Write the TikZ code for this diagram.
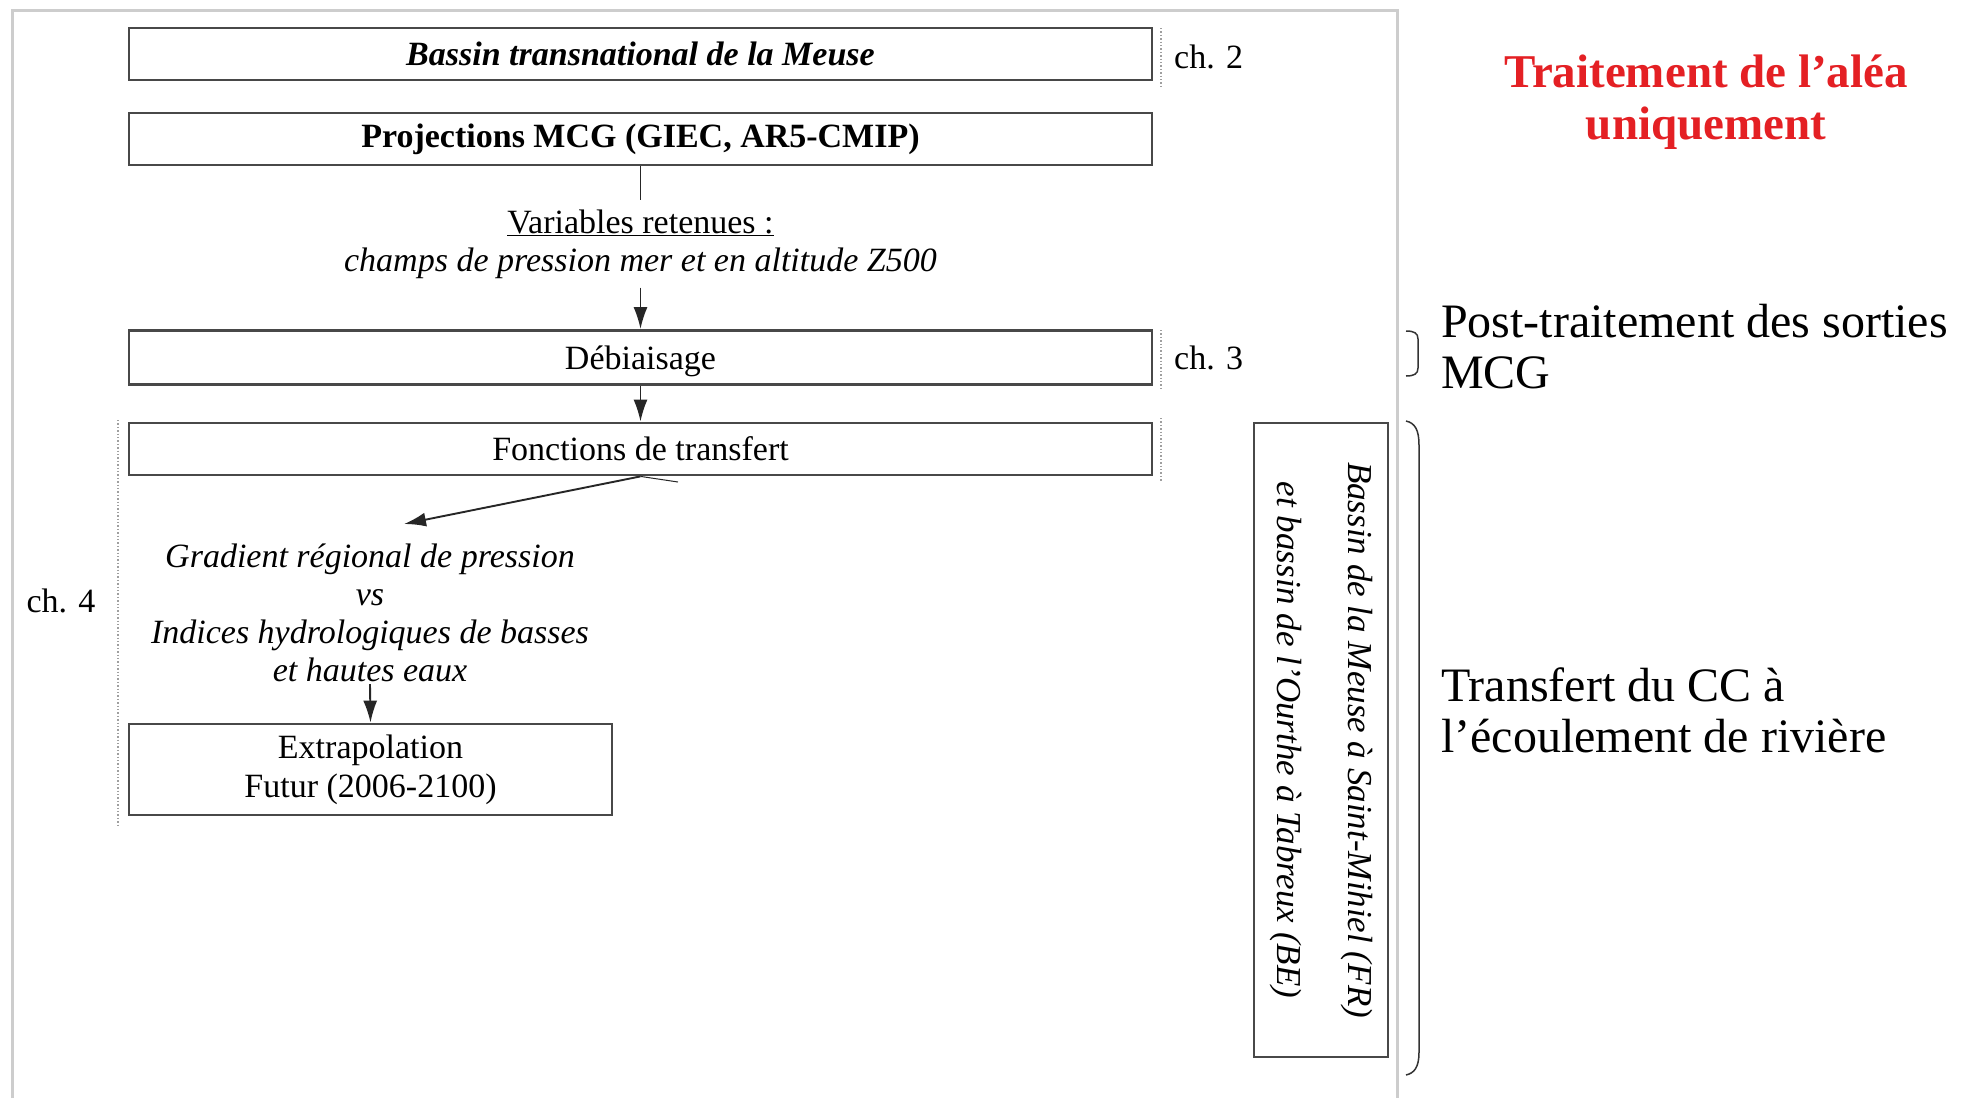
\documentclass[tikz,border=0pt]{standalone}
\usepackage{fontspec}
\setmainfont{Liberation Serif}
\usetikzlibrary{arrows.meta}
\definecolor{alea}{RGB}{228,32,36}
\definecolor{frameg}{RGB}{205,205,205}
\definecolor{boxg}{RGB}{72,72,72}
\begin{document}
\begin{tikzpicture}[x=1pt,y=-1pt,
 box/.style={draw=boxg, line width=2.8pt, inner sep=0pt, minimum width=1023pt, minimum height=52pt, font=\fontsize{34}{38}\selectfont, align=center},
 txt/.style={font=\fontsize{34}{38}\selectfont, align=center, inner sep=2pt},
 conn/.style={draw=black!85, line width=1.9pt},
 arr/.style={conn, -{Latex[length=22pt,width=14pt]}},
 dots/.style={draw=gray!75, line width=1.4pt, dotted},
 big/.style={font=\fontsize{48}{51}\selectfont, align=left, inner sep=0pt, anchor=west},
 brace/.style={draw=black!80, line width=1.5pt},
 frame/.style={draw=frameg, line width=3pt}]
\useasboundingbox[fill=white] (0,0) rectangle (1965,1098);
% outer frame
\draw[frame] (12,1098) -- (12,10) -- (1397,10) -- (1397,1098);
% boxes
\node[box, font=\fontsize{34}{38}\selectfont\bfseries\itshape] (b1) at (640.5,54) {Bassin transnational de la Meuse};
\node[box, font=\fontsize{34}{38}\selectfont\bfseries] (b2) at (640.5,139) {Projections MCG (GIEC, AR5-CMIP)};
\node[txt, inner sep=9pt] (var) at (640.5,244) {\underline{Variables retenues :}\\\textit{champs de pression mer et en altitude Z500}};
\node[box, minimum height=54pt, text depth=0pt] (b3) at (640.5,357.5) {Débiaisage};
\node[box] (b4) at (640.5,449) {Fonctions de transfert};
\node[txt, font=\fontsize{34}{38}\selectfont\itshape] (grad) at (370,613) {Gradient régional de pression\\vs\\Indices hydrologiques de basses\\et hautes eaux};
\node[box, minimum width=483pt, minimum height=91pt, font=\fontsize{34}{39}\selectfont] (b5) at (370.5,769.5) {Extrapolation\\Futur (2006-2100)};
\node[box, rotate=-90, minimum width=634pt, minimum height=134pt, font=\fontsize{35}{71}\selectfont\itshape] (vb) at (1321,740) {Bassin de la Meuse à Saint-Mihiel (FR)\\et bassin de l’Ourthe à Tabreux (BE)};
\coordinate (gtip) at (404,524);
% chapter labels
\node[txt, anchor=west] (ch2) at (1172,57) {ch. 2};
\node[txt, anchor=west] (ch3) at (1172,358) {ch. 3};
\node[txt] (ch4) at (61,601) {ch. 4};
\draw[dots] (1161,28) -- (1161,86);
\draw[dots] (1161,330) -- (1161,390);
\draw[dots] (1161,418) -- (1161,482);
\draw[dots] (118,420) -- (118,825);
% connectors
\draw[conn] (b2.south) -- (var.north);
\draw[arr] (var.south) -- (b3.north);
\draw[arr] (b3.south) -- (b4.north);
\draw[arr] (b4.south) -- (gtip);
\draw[conn, line width=1pt] (b4.south) -- (678,482);
\draw[arr] (grad.south) -- (b5.north);
% right side
\node[font=\fontsize{47}{52}\selectfont\bfseries, text=alea, align=center, inner sep=0pt] (alea) at (1706,102) {Traitement de l’aléa\\uniquement};
\node[big] (post) at (1441,347) {Post-traitement des sorties\\MCG};
\node[big] (transf) at (1441,710) {Transfert du CC à\\l’écoulement de rivière};
\draw[brace] (1406,331) .. controls (1414,331) and (1418,333) .. (1418,339) -- (1418,368) .. controls (1418,374) and (1414,376) .. (1406,376);
\draw[brace] (1406,421) .. controls (1415,423) and (1419,430) .. (1419,445) -- (1419,1052) .. controls (1419,1068) and (1414,1073) .. (1406,1075);
\end{tikzpicture}
\end{document}
